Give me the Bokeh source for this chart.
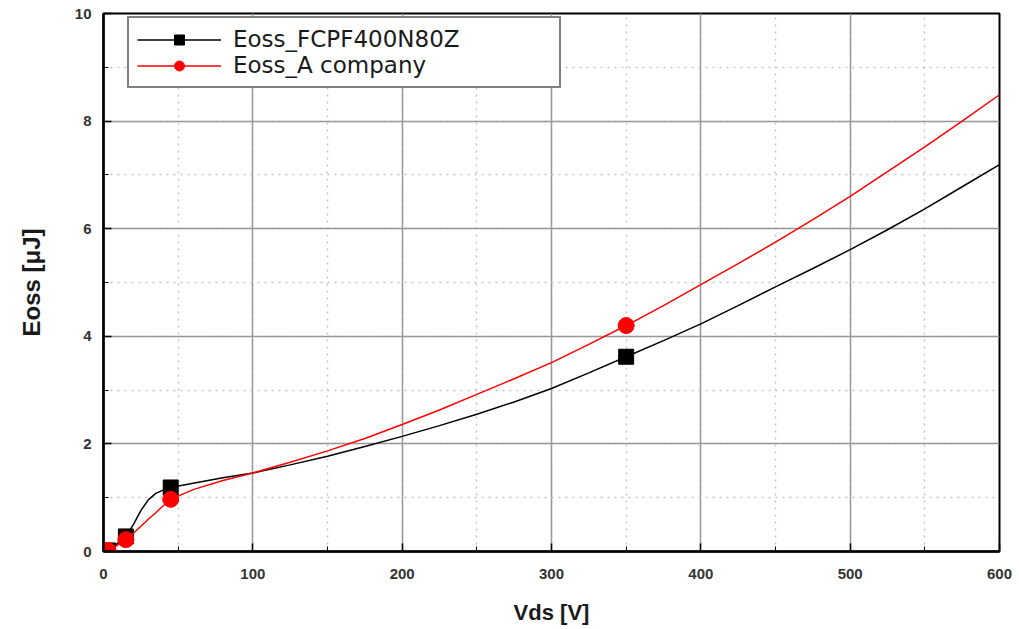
from bokeh.plotting import figure
from bokeh.models import Range1d, Legend, LegendItem, FixedTicker
from bokeh.embed import file_html
from bokeh.resources import INLINE

# ---- data ----
vds_curve = [0, 5, 15, 20, 25, 30, 35, 40, 45, 60, 80, 100, 125, 150, 175, 200, 225, 250, 275,
             300, 325, 350, 375, 400, 425, 450, 475, 500, 525, 550, 575, 600]
eoss_fcpf_curve = [0, 0.05, 0.28, 0.50, 0.76, 0.96, 1.08, 1.14, 1.19, 1.27, 1.37, 1.46, 1.61, 1.77,
                   1.95, 2.14, 2.34, 2.55, 2.78, 3.03, 3.32, 3.62, 3.92, 4.23, 4.57, 4.92, 5.26,
                   5.61, 5.98, 6.37, 6.78, 7.19]
eoss_acomp_curve = [0, 0.04, 0.22, 0.34, 0.47, 0.60, 0.72, 0.85, 0.97, 1.15, 1.32, 1.46, 1.66, 1.87,
                    2.10, 2.36, 2.63, 2.92, 3.21, 3.51, 3.85, 4.20, 4.57, 4.96, 5.35, 5.75, 6.17,
                    6.60, 7.06, 7.52, 8.00, 8.49]

vds_points = [3, 15, 45, 350]
eoss_fcpf_points = [0.02, 0.28, 1.19, 3.62]
eoss_acomp_points = [0.02, 0.22, 0.97, 4.20]

x_ticks = [0, 100, 200, 300, 400, 500, 600]
y_ticks = [0, 2, 4, 6, 8, 10]

label_fcpf = "Eoss_FCPF400N80Z"
label_acomp = "Eoss_A company"
x_label = "Vds [V]"
y_label = "Eoss [μJ]"

FONT = "Liberation Sans"

p = figure(width=1019, height=629, output_backend="svg", toolbar_location=None,
           x_range=Range1d(0, 600), y_range=Range1d(0, 10),
           min_border_left=103, min_border_right=20, min_border_top=13, min_border_bottom=78)
p.background_fill_color = "white"
p.border_fill_color = "white"
p.outline_line_color = "black"
p.outline_line_width = 2

# axes
p.xaxis.ticker = FixedTicker(ticks=x_ticks, minor_ticks=list(range(0, 601, 50)))
p.yaxis.ticker = FixedTicker(ticks=y_ticks, minor_ticks=list(range(0, 11, 1)))
for ax in (p.xaxis[0], p.yaxis[0]):
    ax.axis_line_color = "black"
    ax.axis_line_width = 2.5
    ax.major_tick_in = 8
    ax.major_tick_out = 0
    ax.minor_tick_in = 5
    ax.minor_tick_out = 0
    ax.major_tick_line_color = "black"
    ax.major_tick_line_width = 1.5
    ax.minor_tick_line_color = "black"
    ax.minor_tick_line_width = 1
    ax.major_label_text_font = FONT
    ax.major_label_text_font_size = "15px"
    ax.major_label_text_font_style = "bold"
    ax.major_label_text_color = "#333333"
    ax.axis_label_text_font = FONT
    ax.axis_label_text_font_style = "bold"
    ax.axis_label_text_color = "#1a1a1a"

p.xaxis.axis_label = x_label
p.yaxis.axis_label = y_label
p.xaxis.axis_label_text_font_size = "22px"
p.yaxis.axis_label_text_font_size = "24px"
p.xaxis.major_label_standoff = 17
p.xaxis.axis_label_standoff = 18
p.yaxis.major_label_standoff = 12
p.yaxis.axis_label_standoff = 27

# grid
for g in (p.xgrid[0], p.ygrid[0]):
    g.grid_line_color = "#999999"
    g.grid_line_width = 1.5
    g.minor_grid_line_color = "#c4c4c4"
    g.minor_grid_line_width = 1.5
    g.minor_grid_line_dash = "2 5"

# series
l1 = p.line(vds_curve, eoss_fcpf_curve, line_color="black", line_width=1.5)
m1 = p.scatter(vds_points, eoss_fcpf_points, marker="square", size=15,
               fill_color="black", line_color="black")
l2 = p.line(vds_curve, eoss_acomp_curve, line_color="red", line_width=1.5)
m2 = p.scatter(vds_points, eoss_acomp_points, marker="circle", size=16,
               fill_color="red", line_color="red")

legend = Legend(items=[LegendItem(label=label_fcpf, renderers=[l1, m1]),
                       LegendItem(label=label_acomp, renderers=[l2, m2])],
                location=(24, 463))
legend.border_line_color = "black"
legend.border_line_width = 2
legend.background_fill_color = "white"
legend.background_fill_alpha = 1
legend.padding = 8
legend.spacing = 0
legend.margin = 0
legend.glyph_width = 84
legend.glyph_height = 25
legend.label_height = 25
legend.label_standoff = 12
legend.label_width = 318
legend.label_text_font = "DejaVu Sans"
legend.label_text_font_size = "23px"
legend.label_text_color = "#1a1a1a"
p.add_layout(legend, "center")

open("out.html", "w").write(file_html(p, INLINE))
